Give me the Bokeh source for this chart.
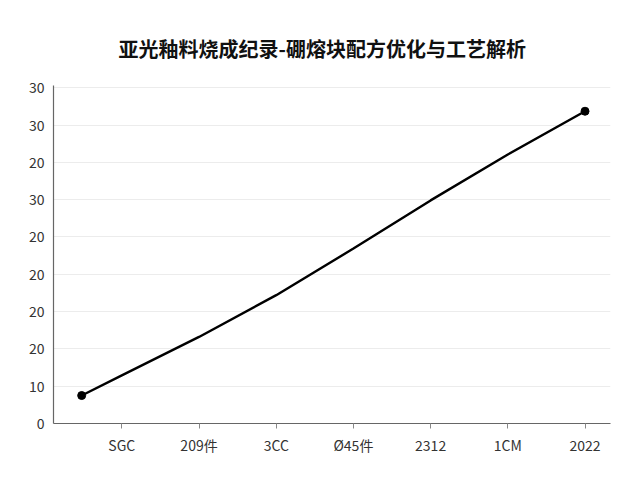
from bokeh.plotting import figure
from bokeh.models import FixedTicker, Range1d, Title
from bokeh.embed import file_html
from bokeh.resources import INLINE

title_text = "亚光釉料烧成纪录-硼熔块配方优化与工艺解析"
x_tick_labels = ["SGC", "209件", "3CC", "Ø45件", "2312", "1CM", "2022"]
y_tick_labels = ["0", "10", "20", "20", "20", "20", "30", "20", "30", "30"]
y_tick_values = [0, 10, 20, 30, 40, 50, 60, 70, 80, 90]

x_values = [-0.52, 0, 1, 2, 3, 4, 5, 6]
y_values = [7.5, 12.9, 23.2, 34.4, 46.9, 59.8, 72.1, 83.7]
end_x = [x_values[0], x_values[-1]]
end_y = [y_values[0], y_values[-1]]

FONT = "Noto Sans CJK SC"

p = figure(width=624, height=464, output_backend="svg", toolbar_location=None,
           x_range=Range1d(-0.885, 6.33), y_range=Range1d(0, 90.6),
           min_border_left=53, min_border_right=14, min_border_top=85,
           min_border_bottom=41, background_fill_color="white",
           border_fill_color="white")
p.outline_line_color = None

p.title = Title(text=title_text, align="left", text_font=FONT,
                text_font_size="20px", text_font_style="bold",
                text_color="#111111", offset=65, standoff=46)

p.xgrid.grid_line_color = None
p.ygrid.grid_line_color = "#ececec"
p.ygrid.grid_line_width = 1

p.xaxis.ticker = FixedTicker(ticks=list(range(len(x_tick_labels))))
p.xaxis.major_label_overrides = {i: t for i, t in enumerate(x_tick_labels)}
p.yaxis.ticker = FixedTicker(ticks=y_tick_values)
p.yaxis.major_label_overrides = {v: t for v, t in zip(y_tick_values, y_tick_labels)}

for ax in (p.xaxis, p.yaxis):
    ax.axis_line_color = "#666666"
    ax.axis_line_width = 1.2
    ax.major_label_text_font = FONT
    ax.major_label_text_font_size = "14px"
    ax.major_label_text_color = "#333333"
    ax.minor_tick_line_color = None

p.xaxis.major_tick_line_color = "#888888"
p.xaxis.major_tick_in = 0
p.xaxis.major_tick_out = 5
p.xaxis.major_label_standoff = 6
p.yaxis.major_tick_line_color = None
p.yaxis.major_tick_in = 0
p.yaxis.major_tick_out = 0
p.yaxis.major_label_standoff = 9

p.line(x_values, y_values, line_color="black", line_width=2.4)
p.scatter(end_x, end_y, size=8, fill_color="black", line_color="black")

open("out.html", "w").write(file_html(p, INLINE))
